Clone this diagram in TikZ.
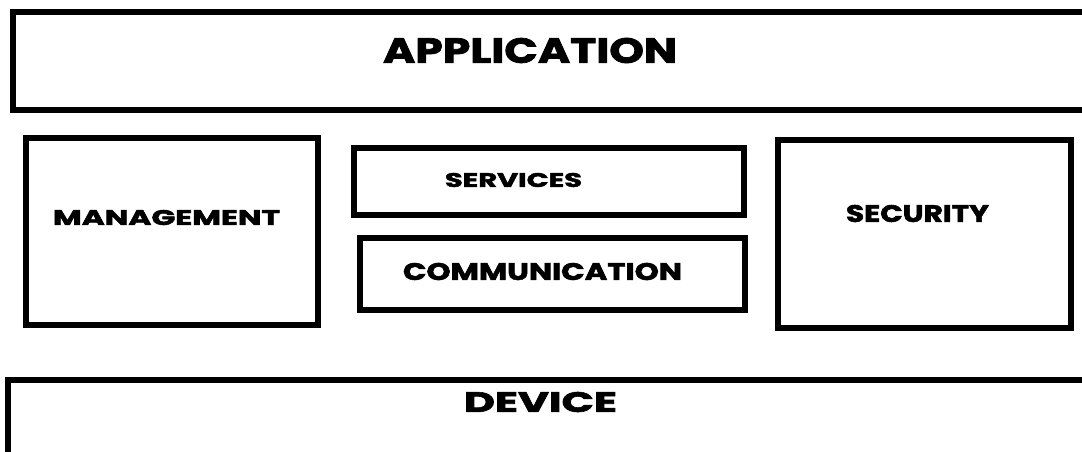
\documentclass[tikz,border=0pt]{standalone}
\usepackage{fontspec}
\setmainfont{Poppins}[BoldFeatures={FakeBold=2}]
\usepackage{graphicx}
\newcommand{\fitlabel}[3]{\resizebox{#1pt}{#2pt}{\bfseries #3}}

\begin{document}
\begin{tikzpicture}[x=1pt,y=-1pt,line cap=rect,
  layer/.style={draw=black,line width=6pt},
  lbl/.style={inner sep=0pt,anchor=center}]
\useasboundingbox (0,0) rectangle (1082,451);
\begin{scope}
\clip (0,0) rectangle (1082,451);
\draw[layer] (13,12) rectangle (1096,110);
\draw[layer] (26,138) rectangle (318,325);
\draw[layer] (354,148) rectangle (744,215);
\draw[layer] (360,238) rectangle (745,310);
\draw[layer] (778,140) rectangle (1071,328);
\draw[layer] (8,380) rectangle (1096,470);
\end{scope}
\node[lbl] (application) at (530,50.5) {\fitlabel{294}{25}{APPLICATION}};
\node[lbl] (management) at (166.5,217.5) {\fitlabel{227}{15}{MANAGEMENT}};
\node[lbl] (services) at (513.5,180) {\fitlabel{137}{14}{SERVICES}};
\node[lbl] (communication) at (542.5,271.5) {\fitlabel{279}{17}{COMMUNICATION}};
\node[lbl] (security) at (917.5,213.5) {\fitlabel{143}{17}{SECURITY}};
\node[lbl] (device) at (540.5,402) {\fitlabel{153}{20}{DEVICE}};
\end{tikzpicture}
\end{document}
